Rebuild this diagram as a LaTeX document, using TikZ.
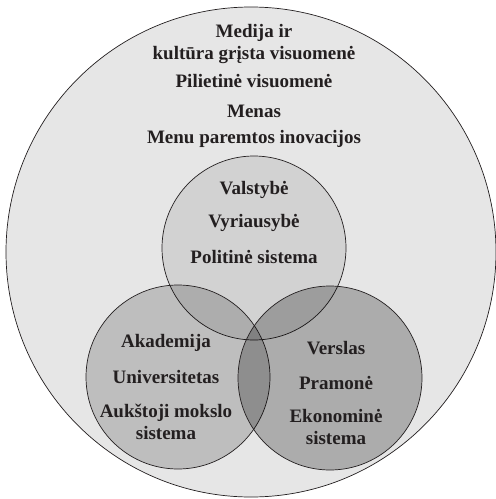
\documentclass[tikz,border=0pt]{standalone}
\usepackage{fontspec}
\setmainfont{Liberation Serif}
\usepackage{tikz}
\definecolor{outerfill}{HTML}{E6E6E6}
\definecolor{inkgray}{HTML}{231F20}
\tikzset{
    sphere/.style={circle,draw=inkgray,line width=0.7pt,fill=black,
        inner sep=0pt,minimum size=184pt},
    sectortext/.style={align=center,text=inkgray,
        font=\fontsize{19pt}{22pt}\selectfont\bfseries}
}

\begin{document}
\begin{tikzpicture}[x=1pt,y=-1pt]
    \useasboundingbox (0,0) rectangle (496,499);

    % society around the helix
    \draw[inkgray,line width=0.7pt,fill=outerfill] (251,252) circle[radius=245pt];

    % the three spheres
    \node[sphere,fill opacity=0.087] (state) at (254,248) {};
    \node[sphere,fill opacity=0.174] (academia) at (178,377) {};
    \node[sphere,fill opacity=0.252] (business) at (330,378) {};

    \node[sectortext] (media) at (254,44) {Medija ir\\kultūra grįsta visuomenė};
    \node[sectortext] (civil) at (254,81) {Pilietinė visuomenė};
    \node[sectortext] (arts) at (254,111) {Menas};
    \node[sectortext] (innov) at (254,139) {Menu paremtos inovacijos};

    \node[sectortext] (valst) at (254,190) {Valstybė};
    \node[sectortext] (vyr) at (254,223) {Vyriausybė};
    \node[sectortext] (polit) at (254,257) {Politinė sistema};

    \node[sectortext] (akad) at (166,343) {Akademija};
    \node[sectortext] (univ) at (166,377) {Universitetas};
    \node[sectortext] (moksl) at (166,422) {Aukštoji mokslo\\sistema};

    \node[sectortext] (versl) at (336,348) {Verslas};
    \node[sectortext] (pram) at (336,383) {Pramonė};
    \node[sectortext] (ekon) at (336,427) {Ekonominė\\sistema};
\end{tikzpicture}
\end{document}
